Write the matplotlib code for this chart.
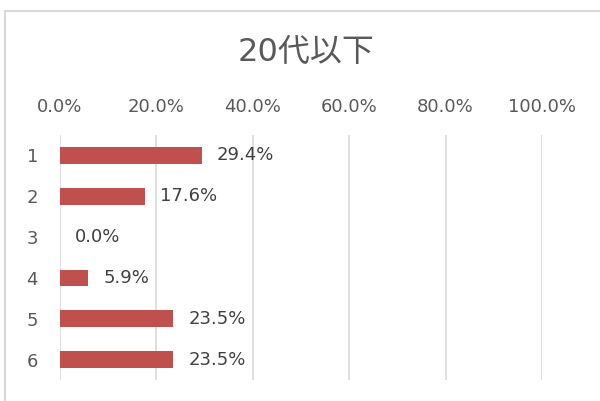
import matplotlib
matplotlib.use("Agg")
import matplotlib.pyplot as plt
from matplotlib.patches import Rectangle
from matplotlib.ticker import PercentFormatter

plt.rcParams['font.family'] = ['DejaVu Sans', 'Noto Sans CJK JP']

title = "20代以下"
categories = ["1", "2", "3", "4", "5", "6"]
values = [0.294, 0.176, 0.0, 0.059, 0.235, 0.235]
labels = ["29.4%", "17.6%", "0.0%", "5.9%", "23.5%", "23.5%"]
xticks = [0.0, 0.2, 0.4, 0.6, 0.8, 1.0]

W, H = 600, 401
fig = plt.figure(figsize=(W / 100, H / 100), dpi=100)
fig.patch.set_facecolor('white')

# chart border
fig.add_artist(Rectangle((5 / W, -0.05), 1.0, 1 - 11 / H + 0.05,
                         transform=fig.transFigure, fill=False,
                         edgecolor='#D9D9D9', linewidth=1.5))

ax = fig.add_axes([60 / W, 1 - 380 / H, (542 - 60) / W, (380 - 135) / H])
ypos = list(range(len(categories)))
ax.barh(ypos, values, height=0.41, color='#C0504D', zorder=3)
ax.set_ylim(len(categories) - 0.5, -0.5)
ax.set_xlim(0, 1.0)
ax.set_yticks(ypos)
ax.set_yticklabels(categories)
ax.set_xticks(xticks)
ax.xaxis.set_major_formatter(PercentFormatter(1.0, decimals=1))
ax.xaxis.tick_top()
ax.tick_params(axis='x', length=0, pad=14, labelsize=13, labelcolor='#595959')
ax.tick_params(axis='y', length=0, pad=20, labelsize=13, labelcolor='#595959')
for lbl in ax.get_yticklabels():
    lbl.set_horizontalalignment('center')
for s in ax.spines.values():
    s.set_visible(False)
ax.grid(axis='x', color='#D9D9D9', linewidth=1.2, zorder=0)
ax.set_axisbelow(True)

for y, v, t in zip(ypos, values, labels):
    ax.annotate(t, (v, y), xytext=(15, 0), textcoords='offset pixels',
                va='center', ha='left', fontsize=13, color='#404040')

fig.text(306 / W, 1 - 52 / H, title, ha='center', va='center',
         fontsize=23, color='#595959')

fig.savefig('out.png', dpi=100)
